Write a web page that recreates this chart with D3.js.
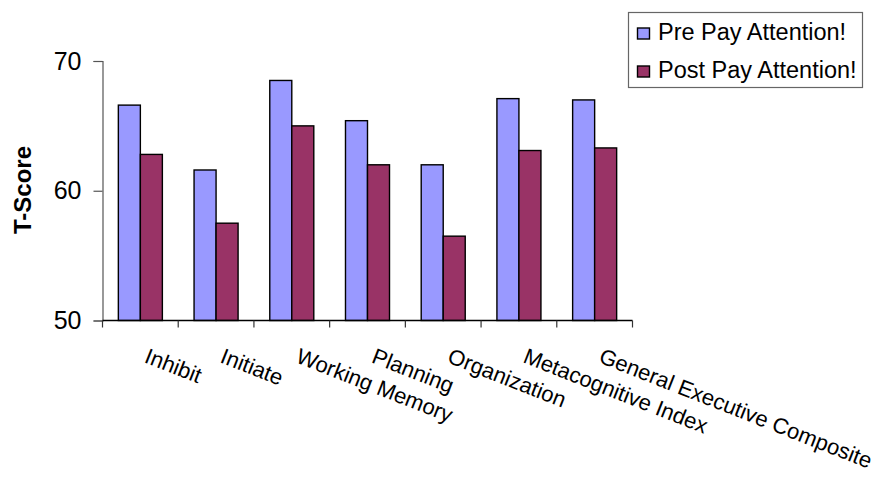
<!DOCTYPE html>
<html>
<head>
<meta charset="utf-8">
<script src="https://cdn.jsdelivr.net/npm/d3@7/dist/d3.min.js"></script>
<style>
  html, body { margin: 0; padding: 0; background: #fff; }
  svg { display: block; font-family: "Liberation Sans", Arial, sans-serif; }
</style>
</head>
<body>
<svg id="chart" width="888" height="480"></svg>
<script>
// BRIEF scale T-scores before and after the Pay Attention! programme
const categories = ["Inhibit", "Initiate", "Working Memory", "Planning", "Organization", "Metacognitive Index", "General Executive Composite"];
const seriesNames = ["Pre Pay Attention!", "Post Pay Attention!"];
const preValues  = [66.6, 61.6, 68.5, 65.4, 62.0, 67.1, 67.0];
const postValues = [62.8, 57.5, 65.0, 62.0, 56.5, 63.1, 63.3];
const yTicks = [50, 60, 70];
const colors = ["#9999FF", "#993366"];

const svg = d3.select("#chart");
const plot = { left: 102.5, right: 632.5, top: 61, bottom: 320.5 };

const x = d3.scaleBand().domain(categories).range([plot.left, plot.right]).paddingInner(0).paddingOuter(0);
const inner = d3.scaleBand().domain(seriesNames).range([0, x.bandwidth()]).paddingInner(0).paddingOuter(0.72);
const y = d3.scaleLinear().domain([50, 70]).range([plot.bottom, plot.top]);

const rows = categories.map((c, i) => ({ cat: c, vals: [preValues[i], postValues[i]] }));

// bars
const g = svg.append("g");
rows.forEach(r => {
  r.vals.forEach((v, k) => {
    g.append("rect")
      .attr("x", x(r.cat) + inner(seriesNames[k]))
      .attr("y", y(v))
      .attr("width", inner.bandwidth())
      .attr("height", y(50) - y(v))
      .attr("fill", colors[k])
      .attr("stroke", "#000")
      .attr("stroke-width", 1.4);
  });
});

// y axis
const yAxis = svg.append("g")
  .attr("transform", `translate(${plot.left},0)`)
  .call(d3.axisLeft(y).tickValues(yTicks).tickSize(9).tickPadding(12).tickFormat(d3.format("d")));
yAxis.select(".domain").attr("stroke", "#555").attr("stroke-width", 1.2);
yAxis.selectAll(".tick line").attr("stroke", "#555").attr("stroke-width", 1.2);
yAxis.selectAll(".tick text").attr("font-size", 25).attr("fill", "#000").attr("font-family", "Liberation Sans, Arial, sans-serif");

// x axis with ticks on the category boundaries
const xAxisG = svg.append("g").attr("transform", `translate(0,${plot.bottom})`);
xAxisG.append("line").attr("x1", plot.left).attr("x2", plot.right).attr("y1", 0).attr("y2", 0)
  .attr("stroke", "#000").attr("stroke-width", 1.4);
const bounds = categories.map(c => x(c)).concat([plot.right]);
xAxisG.selectAll("line.tk").data(bounds).enter().append("line").attr("class", "tk")
  .attr("x1", d => d).attr("x2", d => d).attr("y1", 0).attr("y2", 7)
  .attr("stroke", "#333").attr("stroke-width", 1.2);

// slanted category labels
svg.append("g").selectAll("text").data(categories).enter().append("text")
  .attr("transform", d => `translate(${x(d) + x.bandwidth() / 2 + 3},${362}) rotate(21.5)`)
  .attr("text-anchor", "start")
  .attr("font-size", 22)
  .attr("fill", "#000")
  .text(d => d);

// axis title
svg.append("text")
  .attr("transform", `translate(31,190) rotate(-90)`)
  .attr("text-anchor", "middle")
  .attr("font-size", 24)
  .attr("font-weight", "bold")
  .attr("fill", "#000")
  .text("T-Score");

// legend
const lg = svg.append("g");
lg.append("rect").attr("x", 628.5).attr("y", 12.5).attr("width", 234).attr("height", 75)
  .attr("fill", "#fff").attr("stroke", "#666").attr("stroke-width", 1.2);
seriesNames.forEach((s, k) => {
  const yy = 28 + k * 38;
  lg.append("rect").attr("x", 637.5).attr("y", yy).attr("width", 12).attr("height", 11)
    .attr("fill", colors[k]).attr("stroke", "#000").attr("stroke-width", 1.4);
  lg.append("text").attr("x", 658).attr("y", yy + 11.5)
    .attr("font-size", 23.5).attr("fill", "#000").text(s);
});
</script>
</body>
</html>
